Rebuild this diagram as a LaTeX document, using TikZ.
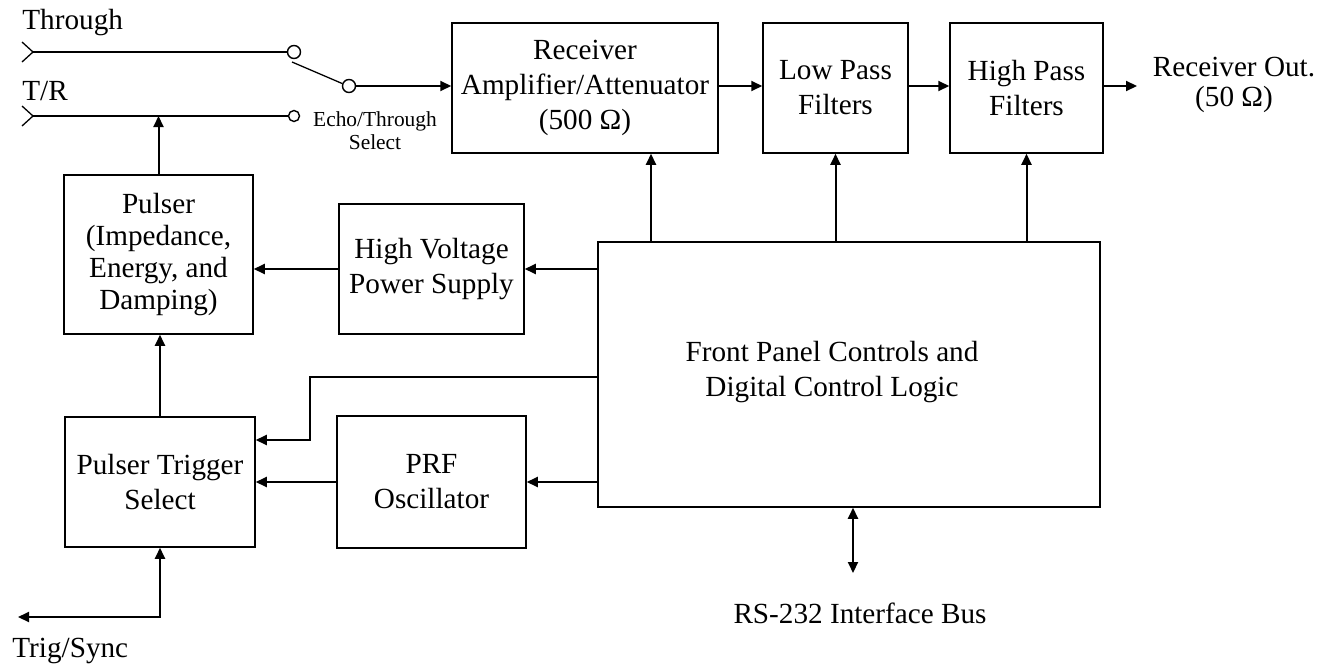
\documentclass[tikz,border=0pt]{standalone}
\usepackage{fontspec}
\setmainfont{Liberation Serif}
\usetikzlibrary{arrows.meta}
\begin{document}
\begin{tikzpicture}[x=0.5pt,y=-0.5pt,
  box/.style={draw, line width=0.75pt, inner sep=0pt, align=center, font=\fontsize{14.6}{17.5}\selectfont},
  arr/.style={line width=1pt, -{Triangle[length=5.5pt,width=5pt]}},
  darr/.style={line width=1pt, {Triangle[length=5.5pt,width=5pt]}-{Triangle[length=5.5pt,width=5pt]}},
  wire/.style={line width=0.65pt},
  txt/.style={inner sep=0pt, font=\fontsize{14.6}{17.5}\selectfont, align=center},
  port/.style={circle, draw, line width=0.7pt, fill=white, minimum size=6.5pt, inner sep=0pt}]
\useasboundingbox (0,0) rectangle (1332,669);

% blocks
\node[box, minimum width=133pt, minimum height=65pt] (recv) at (585,88) {Receiver\\Amplifier/Attenuator\\(500 Ω)};
\node[box, minimum width=72.5pt, minimum height=65pt] (lpf) at (835.5,88) {Low Pass\\Filters};
\node[box, minimum width=76.5pt, minimum height=65pt] (hpf) at (1026.5,88) {High Pass\\Filters};
\node[box, minimum width=94.5pt, minimum height=79.5pt, font=\fontsize{14.6}{16}\selectfont] (pulser) at (158.5,254.5) {Pulser\\(Impedance,\\Energy, and\\Damping)};
\node[box, minimum width=92.5pt, minimum height=65pt] (hv) at (431.5,269) {High Voltage\\Power Supply};
\node[box, minimum width=251pt, minimum height=132.5pt] (fp) at (849,374.5) {};
\node[txt] (fptext) at (832,372) {Front Panel Controls and\\Digital Control Logic};
\node[box, minimum width=95pt, minimum height=65pt] (trig) at (160,482) {Pulser Trigger\\Select};
\node[box, minimum width=94.5pt, minimum height=66pt] (prf) at (431.5,482) {PRF\\Oscillator};

% switch
\coordinate (in1) at (33,52);
\coordinate (in2) at (33,116);
\draw[wire] (22,42) -- (in1) -- (22,62);
\draw[wire] (22,106) -- (in2) -- (22,126);
\node[port] (c1) at (294,52) {};
\node[port, minimum size=5.5pt] (c2) at (294,116) {};
\node[port] (c3) at (349,86) {};
\draw[wire] (in1) -- (c1.west);
\draw[wire] (in2) -- (c2.west);
\coordinate (arm) at (292,62);
\draw[wire] (arm) -- (c3.160);

\node[txt, anchor=base west] (thr) at (22,29) {Through};
\node[txt, anchor=base west] (tr) at (22,100) {T/R};
\node[inner sep=0pt, align=center, font=\fontsize{10.7}{11.5}\selectfont] (echo) at (375,131) {Echo/Through\\Select};

% receiver chain
\draw[arr] (c3.east) -- (recv.west |- c3.east);
\draw[arr] (recv.east |- c3) -- (lpf.west |- c3);
\draw[arr] (lpf.east |- c3) -- (hpf.west |- c3);
\coordinate (out) at (1137,86);
\draw[arr] (hpf.east |- out) -- (out);
\node[txt, font=\fontsize{14.6}{15}\selectfont] (outlbl) at (1234,85) {Receiver Out.\\(50 Ω)};

% control arrows
\coordinate (a1) at (651,0);
\draw[arr] (fp.north -| a1) -- (recv.south -| a1);
\draw[arr] (lpf.south |- fp.north) -- (lpf.south);
\draw[arr] (hpf.south |- fp.north) -- (hpf.south);
\draw[arr] (fp.west |- hv.east) -- (hv.east);
\draw[arr] (hv.west) -- (pulser.east |- hv.west);
\draw[arr] (fp.west |- prf.east) -- (prf.east);
\draw[arr] (prf.west) -- (trig.east |- prf.west);
\coordinate (k1) at (310,377);
\coordinate (k2) at (310,440);
\draw[arr] (fp.west |- k1) -- (k1) -- (k2) -- (trig.east |- k2);
\draw[arr] (trig.north) -- (trig.north |- pulser.south);
\coordinate (trline) at (0,116);
\draw[arr] (pulser.north) -- (pulser.north |- trline);

% trig/sync
\coordinate (ts) at (18,617);
\draw[darr] (ts) -| (trig.south);
\node[txt, anchor=base west] (tslbl) at (12,657) {Trig/Sync};

% RS-232
\coordinate (rs) at (853,573);
\draw[darr] (fp.south -| rs) -- (rs);
\node[txt, anchor=base] (rslbl) at (860,623) {RS-232 Interface Bus};
\end{tikzpicture}
\end{document}
